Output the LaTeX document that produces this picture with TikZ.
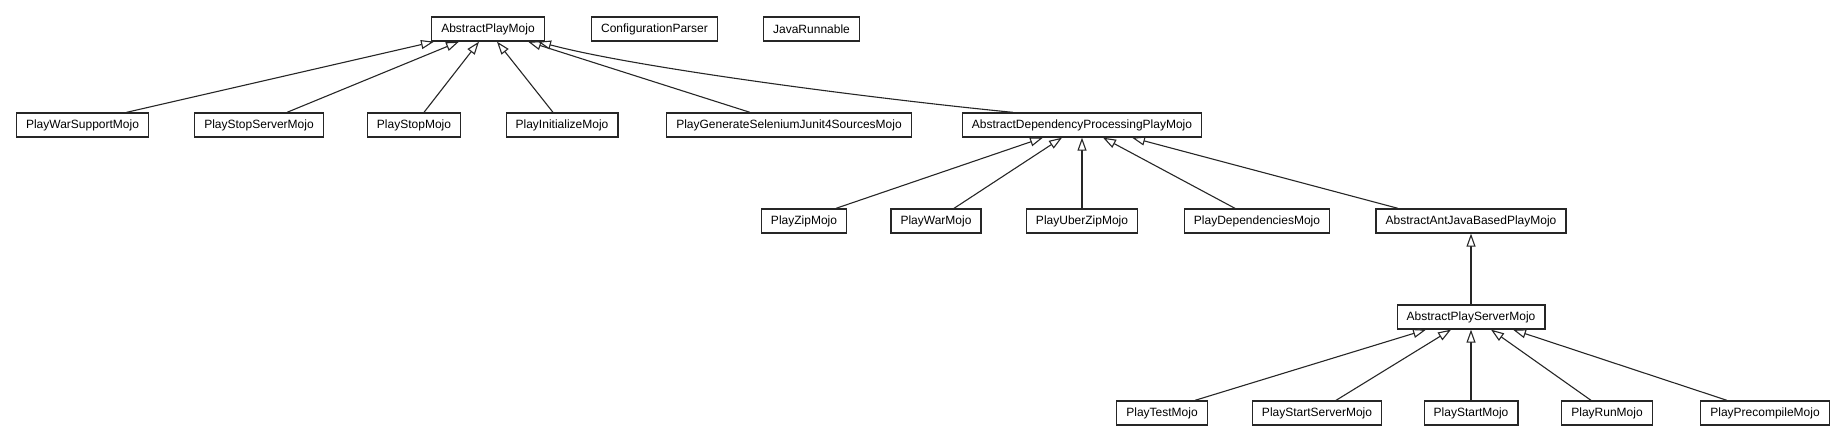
\documentclass[tikz,border=0pt]{standalone}
\usepackage{fontspec}
\setmainfont{Liberation Sans}
\usetikzlibrary{arrows.meta, positioning}
\tikzset{
    class/.style={draw=black!85, line width=1.3pt, fill=white, minimum height=24pt, inner xsep=9.5pt, inner ysep=0pt, font=\fontsize{12pt}{14pt}\selectfont}, % one box per class
    extends/.style={draw=black!85, line width=1.1pt, -{Triangle[length=13pt, width=9pt, fill=white]}}, % hollow arrow head = inheritance
    }
\begin{document}
\begin{tikzpicture}[x=1pt, y=-1pt]
    \useasboundingbox (0,0) rectangle (1847,443);

    % top row
    \node[class] at (488,29) (ABSTRACTPLAY) {AbstractPlayMojo};
    \node[class] at ([xshift=166.5pt]ABSTRACTPLAY) (CONFIGPARSER) {ConfigurationParser};
    \node[class] at ([xshift=157pt]CONFIGPARSER) (JAVARUNNABLE) {JavaRunnable};

    % second row
    \node[class] at ([xshift=-405.5pt,yshift=-96pt]ABSTRACTPLAY) (WARSUPPORT) {PlayWarSupportMojo};
    \node[class] at ([xshift=176.5pt]WARSUPPORT) (STOPSERVER) {PlayStopServerMojo};
    \node[class] at ([xshift=155pt]STOPSERVER) (STOP) {PlayStopMojo};
    \node[class] at ([xshift=148pt]STOP) (INITIALIZE) {PlayInitializeMojo};
    \node[class] at ([xshift=227pt]INITIALIZE) (SELENIUM) {PlayGenerateSeleniumJunit4SourcesMojo};
    \node[class] at ([xshift=293pt]SELENIUM) (DEPPROCESSING) {AbstractDependencyProcessingPlayMojo};

    % third row
    \node[class] at ([xshift=-278pt,yshift=-96pt]DEPPROCESSING) (ZIP) {PlayZipMojo};
    \node[class] at ([xshift=132pt]ZIP) (WAR) {PlayWarMojo};
    \node[class] at ([yshift=-96pt]DEPPROCESSING) (UBERZIP) {PlayUberZipMojo};
    \node[class] at ([xshift=175pt,yshift=-96pt]DEPPROCESSING) (DEPENDENCIES) {PlayDependenciesMojo};
    \node[class] at ([xshift=389pt,yshift=-96pt]DEPPROCESSING) (ANTJAVA) {AbstractAntJavaBasedPlayMojo};

    % fourth and fifth rows
    \node[class] at ([yshift=-96pt]ANTJAVA) (SERVER) {AbstractPlayServerMojo};
    \node[class] at ([yshift=-96pt]SERVER) (START) {PlayStartMojo};
    \node[class] at ([xshift=-309pt]START) (TEST) {PlayTestMojo};
    \node[class] at ([xshift=-154pt]START) (STARTSERVER) {PlayStartServerMojo};
    \node[class] at ([xshift=136pt]START) (RUN) {PlayRunMojo};
    \node[class] at ([xshift=294pt]START) (PRECOMPILE) {PlayPrecompileMojo};

    \draw[extends] ([xshift=44pt]WARSUPPORT.north) -- ([xshift=-54pt]ABSTRACTPLAY.south);
    \draw[extends] ([xshift=28pt]STOPSERVER.north) -- ([xshift=-29pt]ABSTRACTPLAY.south);
    \draw[extends] ([xshift=10pt]STOP.north) -- ([xshift=-9pt]ABSTRACTPLAY.south);
    \draw[extends] ([xshift=-9pt]INITIALIZE.north) -- ([xshift=9pt]ABSTRACTPLAY.south);
    \draw[extends] ([xshift=-39pt]SELENIUM.north) -- ([xshift=40pt]ABSTRACTPLAY.south);
    \draw[extends] ([xshift=-69pt]DEPPROCESSING.north) .. controls +(-133,-13) and +(102,27) .. ([xshift=50pt]ABSTRACTPLAY.south);

    \draw[extends] ([xshift=32pt]ZIP.north) -- ([xshift=-39pt]DEPPROCESSING.south);
    \draw[extends] ([xshift=18pt]WAR.north) -- ([xshift=-20pt]DEPPROCESSING.south);
    \draw[extends] (UBERZIP.north) -- (DEPPROCESSING.south);
    \draw[extends] ([xshift=-22pt]DEPENDENCIES.north) -- ([xshift=21pt]DEPPROCESSING.south);
    \draw[extends] ([xshift=-73pt]ANTJAVA.north) -- ([xshift=50pt]DEPPROCESSING.south);

    \draw[extends] (SERVER.north) -- (ANTJAVA.south);

    \draw[extends] ([xshift=33pt]TEST.north) -- ([xshift=-45pt]SERVER.south);
    \draw[extends] ([xshift=19pt]STARTSERVER.north) -- ([xshift=-20pt]SERVER.south);
    \draw[extends] (START.north) -- (SERVER.south);
    \draw[extends] ([xshift=-16pt]RUN.north) -- ([xshift=20pt]SERVER.south);
    \draw[extends] ([xshift=-38pt]PRECOMPILE.north) -- ([xshift=42pt]SERVER.south);

\end{tikzpicture}
\end{document}
